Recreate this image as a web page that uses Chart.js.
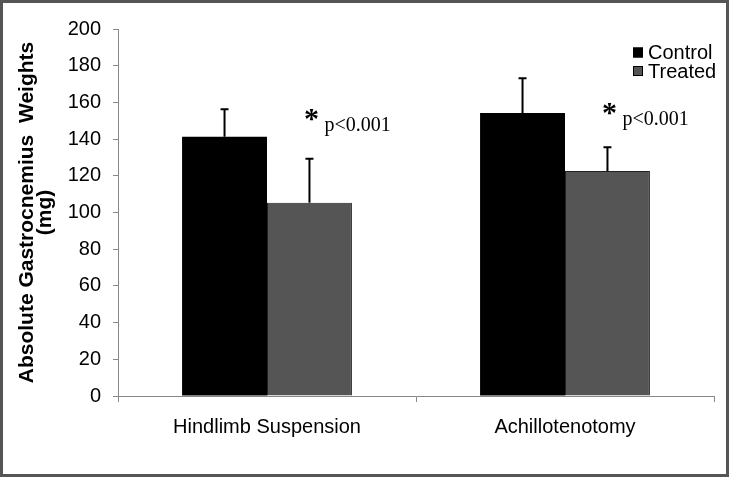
<!DOCTYPE html>
<html>
<head>
<meta charset="utf-8">
<script src="https://cdn.jsdelivr.net/npm/chart.js@4.4.1/dist/chart.umd.min.js"></script>
<style>
  html, body { margin: 0; padding: 0; background: #fff; }
  #wrap { width: 729px; height: 477px; }
</style>
</head>
<body>
<div id="wrap"><canvas id="chart" width="729" height="477"></canvas></div>
<script>
// data
const categories = ['Hindlimb Suspension', 'Achillotenotomy'];
const seriesNames = ['Control', 'Treated'];
const controlValues = [141.3, 154.2];
const treatedValues = [105.3, 122.6];
const controlErrors = [15, 19];
const treatedErrors = [24, 13];
const yTickValues = [0, 20, 40, 60, 80, 100, 120, 140, 160, 180, 200];
const pLabels = ['p<0.001', 'p<0.001'];
const pLabelLevels = [144.4, 147.7];

const AXIS_GREY = '#888888';
const SANS = '"Liberation Sans", Arial, sans-serif';
const SERIF = '"Liberation Serif", "Times New Roman", serif';

const frame = {
    id: 'frame',
    beforeDraw(chart) {
        const ctx = chart.ctx;
        ctx.save();
        ctx.fillStyle = '#fff';
        ctx.fillRect(0, 0, chart.width, chart.height);
        ctx.restore();
    },
    afterDraw(chart) {
        const ctx = chart.ctx;
        ctx.save();
        ctx.strokeStyle = '#555555';
        ctx.lineWidth = 3;
        ctx.strokeRect(1.5, 1.5, chart.width - 3, chart.height - 3);
        ctx.restore();
    }
};

const errorBars = {
    id: 'errorBars',
    afterDatasetsDraw(chart) {
        const ctx = chart.ctx;
        const y = chart.scales.y;
        const errs = [controlErrors, treatedErrors];
        ctx.save();
        ctx.strokeStyle = '#000';
        ctx.lineWidth = 2;
        chart.data.datasets.forEach((ds, i) => {
            chart.getDatasetMeta(i).data.forEach((bar, j) => {
                const top = y.getPixelForValue(ds.data[j] + errs[i][j]);
                ctx.beginPath();
                ctx.moveTo(bar.x, bar.y);
                ctx.lineTo(bar.x, top);
                ctx.moveTo(bar.x - 4, top);
                ctx.lineTo(bar.x + 4, top);
                ctx.stroke();
            });
        });
        ctx.restore();
    }
};

// "* p<0.001" over the treated bars
const sigLabels = {
    id: 'sigLabels',
    afterDatasetsDraw(chart) {
        const ctx = chart.ctx;
        const y = chart.scales.y;
        const bars = chart.getDatasetMeta(1).data;
        ctx.save();
        ctx.fillStyle = '#000';
        ctx.textBaseline = 'alphabetic';
        bars.forEach((bar, j) => {
            const base = y.getPixelForValue(pLabelLevels[j]);
            const cx = bar.x + 2;
            ctx.font = 'bold 30px ' + SERIF;
            ctx.textAlign = 'center';
            ctx.fillText('*', cx, base - 3);
            ctx.font = '20px ' + SERIF;
            ctx.textAlign = 'left';
            ctx.fillText(pLabels[j], cx + 13, base);
        });
        ctx.restore();
    }
};

const boxLegend = {
    id: 'boxLegend',
    afterDraw(chart) {
        const ctx = chart.ctx;
        const x = chart.chartArea.right - 81;
        const rows = [52.5, 71];
        ctx.save();
        chart.data.datasets.forEach((ds, i) => {
            ctx.fillStyle = ds.backgroundColor;
            ctx.fillRect(x, rows[i] - 5, 10, 10);
            ctx.strokeStyle = '#000';
            ctx.lineWidth = 1;
            ctx.strokeRect(x + 0.5, rows[i] - 4.5, 9, 9);
            ctx.fillStyle = '#000';
            ctx.font = '20px ' + SANS;
            ctx.textAlign = 'left';
            ctx.textBaseline = 'middle';
            ctx.fillText(ds.label, x + 15, rows[i] + 1);
        });
        ctx.restore();
    }
};

new Chart(document.getElementById('chart').getContext('2d'), {
    type: 'bar',
    data: {
        labels: categories,
        datasets: [
            {
                label: seriesNames[0],
                data: controlValues,
                backgroundColor: '#000000',
                borderColor: '#000000',
                borderWidth: 0
            },
            {
                label: seriesNames[1],
                data: treatedValues,
                backgroundColor: '#555555',
                borderColor: '#222222',
                borderWidth: 1
            }
        ]
    },
    options: {
        responsive: false,
        animation: false,
        categoryPercentage: 0.57,
        barPercentage: 1,
        layout: { padding: { left: 0, top: 29, right: 15, bottom: 0 } },
        plugins: {
            legend: { display: false },
            tooltip: { enabled: false }
        },
        scales: {
            x: {
                grid: { offset: true, drawOnChartArea: false, tickLength: 6, color: AXIS_GREY },
                border: { color: AXIS_GREY, width: 1 },
                ticks: { color: '#000', font: { family: SANS, size: 20 }, padding: 13 },
                afterFit(scale) { scale.height = 81; }
            },
            y: {
                min: 0,
                max: 200,
                afterBuildTicks(scale) { scale.ticks = yTickValues.map(v => ({ value: v })); },
                grid: { drawOnChartArea: false, tickLength: 5, color: AXIS_GREY },
                border: { color: AXIS_GREY, width: 1 },
                ticks: { color: '#000', font: { family: SANS, size: 20 }, padding: 12 },
                title: {
                    display: true,
                    text: ['Absolute Gastrocnemius  Weights', '(mg)'],
                    color: '#000',
                    font: { family: SANS, size: 21, weight: 'bold', lineHeight: 0.86 },
                    padding: { top: 18, bottom: 0 }
                },
                afterFit(scale) { scale.width = 118; }
            }
        }
    },
    plugins: [frame, errorBars, sigLabels, boxLegend]
});
</script>
</body>
</html>
